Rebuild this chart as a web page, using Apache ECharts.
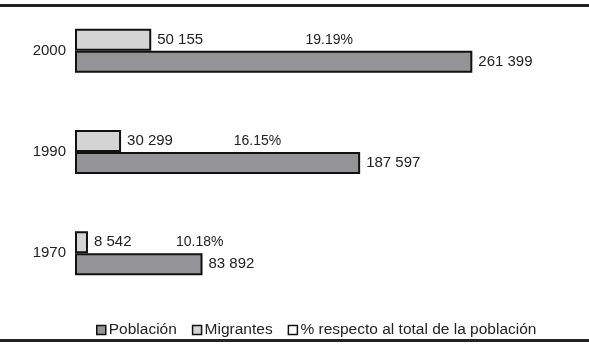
<!DOCTYPE html>
<html>
<head>
<meta charset="utf-8">
<script src="https://cdn.jsdelivr.net/npm/echarts@6/dist/echarts.min.js"></script>
<style>
  html, body { margin: 0; padding: 0; background: #fff; }
  #main { width: 589px; height: 344px; }
</style>
</head>
<body>
<div id="main"></div>
<script>
var years = ['1970', '1990', '2000'];
var poblacion = [83892, 187597, 261399];
var migrantes = [8542, 30299, 50155];
var porcentaje = [10.18, 16.15, 19.19];

function fmt(v) {
    return String(v).replace(/\B(?=(\d{3})+(?!\d))/g, ' ');
}

var chart = echarts.init(document.getElementById('main'));
var font = 'Liberation Sans, Arial, sans-serif';
var option = {
    animation: false,
    textStyle: { fontFamily: font },
    grid: { left: 75, right: 58, top: 0, height: 304 },
    legend: {
        left: 91,
        top: 317,
        itemWidth: 9,
        itemHeight: 9,
        itemGap: 15,
        icon: 'rect',
        selectedMode: false,
        textStyle: { fontSize: 15.5, color: '#222', fontFamily: font, padding: [0, 0, 0, -2] },
        data: [
            { name: 'Población', itemStyle: { color: '#949497', borderColor: '#111', borderWidth: 1.5 } },
            { name: 'Migrantes', itemStyle: { color: '#d4d4d4', borderColor: '#111', borderWidth: 1.5 } },
            { name: '% respecto al total de la población', itemStyle: { color: '#fff', borderColor: '#111', borderWidth: 1.5 } }
        ]
    },
    xAxis: { type: 'value', min: 0, max: 300000, show: false },
    yAxis: [
        {
            type: 'category',
            data: years,
            axisLine: { show: false },
            axisTick: { show: false },
            axisLabel: { color: '#222', fontSize: 15, margin: 9, fontFamily: font }
        },
        { type: 'category', data: years, show: false }
    ],
    series: [
        {
            name: 'Migrantes',
            type: 'bar',
            barWidth: 22,
            barGap: 0,
            data: migrantes,
            itemStyle: { color: '#d4d4d4', borderColor: '#111', borderWidth: 2 },
            label: {
                show: true, position: 'right', distance: 6, color: '#222', fontSize: 15,
                formatter: function (p) { return fmt(p.value); }
            }
        },
        {
            name: 'Población',
            type: 'bar',
            barWidth: 22,
            barGap: 0,
            data: poblacion,
            itemStyle: { color: '#949497', borderColor: '#111', borderWidth: 2 },
            label: {
                show: true, position: 'right', distance: 6, color: '#222', fontSize: 15,
                formatter: function (p) { return fmt(p.value); }
            }
        },
        {
            name: '% respecto al total de la población',
            type: 'bar',
            yAxisIndex: 1,
            barWidth: 22,
            data: poblacion,
            itemStyle: { color: 'rgba(0,0,0,0)' },
            label: {
                show: true, position: ['64%', '0%'], align: 'center', verticalAlign: 'middle',
                color: '#222', fontSize: 14,
                formatter: function (p) { return porcentaje[p.dataIndex].toFixed(2) + '%'; }
            },
            // keep the % text clear of the short Migrantes label
            labelLayout: function (p) {
                var mEnd = chart.convertToPixel({ xAxisIndex: 0 }, migrantes[p.dataIndex]);
                var left = Math.max(p.labelRect.x, mEnd + 88);
                return { x: left + p.labelRect.width / 2 };
            }
        }
    ],
    graphic: [
        { type: 'rect', shape: { x: 0, y: 4, width: 589, height: 3 }, style: { fill: '#222' } },
        { type: 'rect', shape: { x: 0, y: 339, width: 589, height: 3 }, style: { fill: '#222' } }
    ]
};
chart.setOption(option);
window.addEventListener('resize', function () { chart.resize(); });
</script>
</body>
</html>
